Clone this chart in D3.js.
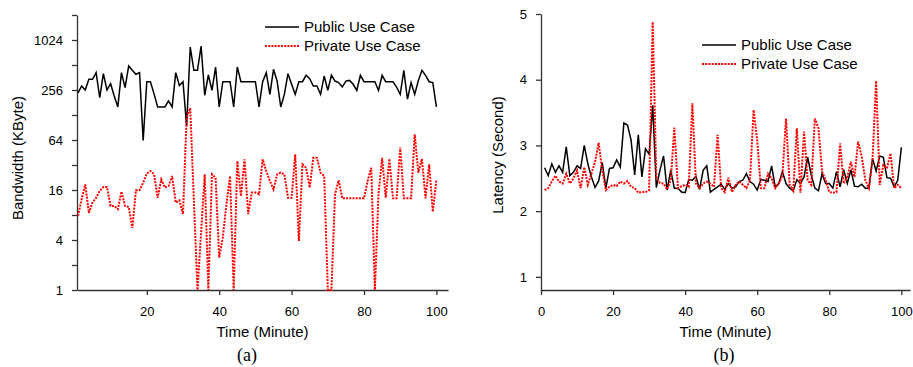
<!DOCTYPE html>
<html>
<head>
<meta charset="utf-8">
<script src="https://cdn.jsdelivr.net/npm/d3@7"></script>
<style>
  html, body { margin: 0; padding: 0; background: #fff; }
  svg { display: block; font-family: "Liberation Sans", Arial, sans-serif; }
  .axis path, .axis line { stroke: #333; stroke-width: 1.3px; }
  .axis text { font-size: 13px; fill: #000; }
</style>
</head>
<body>
<div id="chart"></div>
<script>
// time in minutes, one sample per minute
const minutes = d3.range(1, 101);

// (a) bandwidth, KByte
const bwPublic = [
  237, 286, 256, 344, 344, 414, 207, 403, 256, 305,
  217, 160, 414, 273, 498, 442, 396, 414, 63, 322,
  322, 230, 160, 160, 160, 189, 160, 414, 290, 322,
  94, 843, 442, 442, 867, 221, 388, 254, 484, 160,
  322, 322, 322, 160, 484, 322, 322, 322, 322, 322,
  160, 322, 414, 227, 454, 328, 160, 227, 403, 300,
  227, 322, 322, 385, 350, 286, 286, 227, 377, 253,
  385, 328, 314, 278, 328, 334, 300, 253, 385, 322,
  322, 322, 322, 253, 385, 322, 322, 322, 278, 227,
  442, 198, 314, 227, 330, 442, 385, 322, 314, 160
];
const bwPrivate = [
  7.8, 12.4, 18.7, 8.5, 11.3, 12.9, 15.6, 17.4, 17.4, 10.3,
  10.3, 9.4, 15.3, 10.3, 10, 5.6, 15.9, 15.9, 19.6, 25.2,
  27.1, 24.8, 12.9, 21.5, 17.1, 17.9, 23.6, 11.3, 12, 8.2,
  120, 155, 12, 1, 5, 24.7, 1, 24.7, 22.5, 2.45,
  4.3, 10.8, 23.6, 1, 35.7, 13.5, 37.4, 8.2, 14.9, 14.9,
  14.2, 37.4, 27.1, 20.5, 16.3, 24.7, 25.9, 24.7, 12.9, 12.9,
  43, 3.9, 32.6, 29.7, 17.1, 39.2, 39, 25.9, 23.6, 1,
  1, 14.2, 21, 12.7, 12.7, 12.7, 12.7, 12.7, 12.7, 12.7,
  20.5, 29.7, 1, 14.2, 39, 12.9, 38, 12.7, 12.7, 52,
  12.7, 12.7, 12.7, 75, 25.9, 38, 12.7, 32.6, 8.8, 21
];

// (b) latency, seconds
const latPublic = [
  2.66, 2.54, 2.72, 2.59, 2.69, 2.59, 2.98, 2.54, 2.59, 2.69,
  2.65, 3.0, 2.72, 2.52, 2.36, 2.46, 2.74, 2.35, 2.65, 2.66,
  2.78, 2.67, 3.34, 3.31, 3.08, 2.55, 3.16, 2.52, 2.95, 2.87,
  3.61, 2.36, 2.62, 2.84, 2.32, 2.62, 2.35, 2.35, 2.29, 2.28,
  2.48, 2.47, 2.53, 2.33, 2.62, 2.69, 2.29, 2.33, 2.37, 2.41,
  2.33, 2.42, 2.35, 2.37, 2.45, 2.47, 2.57, 2.45, 2.41, 2.32,
  2.48, 2.47, 2.45, 2.69, 2.37, 2.42, 2.6, 2.42, 2.35, 2.31,
  2.48, 2.42, 2.52, 2.82, 2.55, 2.35, 2.31, 2.57, 2.42, 2.42,
  2.35, 2.6, 2.37, 2.63, 2.42, 2.63, 2.38, 2.37, 2.41, 2.35,
  2.35, 2.8, 2.61, 2.84, 2.82, 2.51, 2.5, 2.37, 2.47, 2.97
];
const latPrivate = [
  2.32, 2.35, 2.45, 2.54, 2.45, 2.42, 2.57, 2.42, 2.5, 2.62,
  2.35, 2.67, 2.4, 2.57, 2.75, 3.04, 2.62, 2.32, 2.37, 2.4,
  2.38, 2.45, 2.42, 2.46, 2.37, 2.35, 2.28, 2.29, 2.29, 2.32,
  4.88, 2.52, 2.43, 2.42, 2.33, 2.47, 3.27, 2.35, 2.38, 2.4,
  2.37, 3.64, 2.42, 2.35, 2.42, 2.45, 2.42, 2.37, 3.16, 2.35,
  2.29, 2.51, 2.29, 2.4, 2.45, 2.4, 2.35, 2.47, 3.54, 3.08,
  2.35, 2.35, 2.57, 2.5, 2.35, 2.42, 2.55, 3.41, 2.4, 2.31,
  3.26, 2.28, 3.21, 2.47, 2.4, 3.41, 3.26, 2.6, 2.47, 2.29,
  2.28, 2.29, 3.03, 2.42, 2.52, 2.75, 2.52, 3.06, 2.83, 2.47,
  2.35, 2.78, 3.98, 2.4, 2.7, 2.65, 2.88, 2.35, 2.4, 2.35
];

const seriesNames = ['Public Use Case', 'Private Use Case'];
const bwTicks = [1, 2, 4, 8, 16, 32, 64, 128, 256, 512, 1024, 2048];
const bwLabels = [1, 4, 16, 64, 256, 1024];
const timeTicksA = [20, 40, 60, 80, 100];
const timeTicksB = [0, 20, 40, 60, 80, 100];
const latTicks = [1, 2, 3, 4, 5];

const W = 913, H = 367;
const svg = d3.select('#chart').append('svg').attr('width', W).attr('height', H);

const styles = [
  { color: '#000', width: 1.5, dash: null },
  { color: '#ff0000', width: 2, dash: '2,1.2' }
];

function drawPanel(opts) {
  const g = svg.append('g');
  const { x, y } = opts;

  g.append('g').attr('class', 'axis')
    .attr('transform', `translate(0,${opts.bottom})`)
    .call(d3.axisBottom(x).tickValues(opts.xTicks).tickSize(5).tickSizeOuter(0)
      .tickPadding(12).tickFormat(d3.format('d')));

  g.append('g').attr('class', 'axis')
    .attr('transform', `translate(${opts.left},0)`)
    .call(d3.axisLeft(y).tickValues(opts.yTicks).tickSize(5).tickSizeOuter(0)
      .tickPadding(9).tickFormat(opts.yFormat));

  const line = d3.line().x((d, i) => x(minutes[i])).y(d => y(d));
  opts.series.forEach((s, k) => {
    g.append('path')
      .datum(s)
      .attr('fill', 'none')
      .attr('stroke', styles[k].color)
      .attr('stroke-width', styles[k].width)
      .attr('stroke-dasharray', styles[k].dash)
      .attr('d', line);
  });

  // legend
  seriesNames.forEach((name, k) => {
    const ly = opts.legend.y + k * 19;
    g.append('line')
      .attr('x1', opts.legend.x).attr('x2', opts.legend.x + 34)
      .attr('y1', ly).attr('y2', ly)
      .attr('stroke', styles[k].color)
      .attr('stroke-width', styles[k].width)
      .attr('stroke-dasharray', styles[k].dash);
    g.append('text')
      .attr('x', opts.legend.x + 39).attr('y', ly + 5)
      .attr('font-size', '15px')
      .text(name);
  });

  // axis titles
  g.append('text')
    .attr('x', (x.range()[0] + x.range()[1]) / 2)
    .attr('y', 337)
    .attr('text-anchor', 'middle')
    .attr('font-size', '15px')
    .text('Time (Minute)');

  g.append('text')
    .attr('transform', `translate(${opts.yTitleX},${opts.yTitleY}) rotate(-90)`)
    .attr('text-anchor', 'middle')
    .attr('font-size', '15px')
    .text(opts.yTitle);

  g.append('text')
    .attr('x', opts.capX).attr('y', 361)
    .attr('text-anchor', 'middle')
    .attr('font-family', '"Liberation Serif", "Times New Roman", serif')
    .attr('font-size', '18px')
    .text(opts.caption);
}

// (a)
const xA = d3.scaleLinear().domain([0.72, 103.2]).range([77, 448]);
const yA = d3.scaleLog().base(2).domain([1, 2048]).range([290, 15]);
drawPanel({
  x: xA, y: yA, left: 77, bottom: 290,
  xTicks: timeTicksA, yTicks: bwTicks,
  yFormat: d => bwLabels.includes(d) ? d : '',
  series: [bwPublic, bwPrivate],
  legend: { x: 265, y: 27 },
  yTitle: 'Bandwidth (KByte)', yTitleX: 23, yTitleY: 158,
  caption: '(a)', capX: 247
});

// (b)
const xB = d3.scaleLinear().domain([0, 102.4]).range([541, 910]);
const yB = d3.scaleLinear().domain([0.8, 5]).range([290, 14]);
drawPanel({
  x: xB, y: yB, left: 541, bottom: 290,
  xTicks: timeTicksB, yTicks: latTicks,
  yFormat: d3.format('d'),
  series: [latPublic, latPrivate],
  legend: { x: 702, y: 45 },
  yTitle: 'Latency (Second)', yTitleX: 503, yTitleY: 155,
  caption: '(b)', capX: 724
});
</script>
</body>
</html>
